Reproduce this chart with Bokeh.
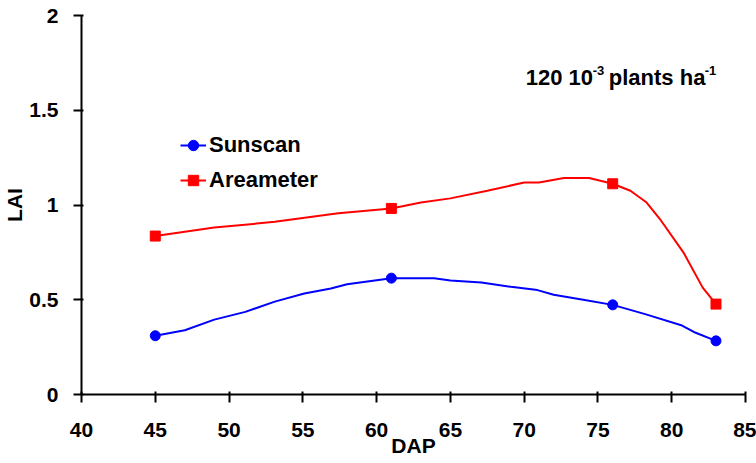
import math
from bokeh.plotting import figure
from bokeh.models import Range1d, FixedTicker, Label, Legend, LegendItem
from bokeh.embed import file_html
from bokeh.resources import INLINE

# measured days (markers)
days = [45, 61, 76, 83]
sunscan = [0.31, 0.614, 0.473, 0.283]
areameter = [0.836, 0.982, 1.112, 0.477]

# smoothed curves
sunscan_curve_days = [45, 47.0, 49.0, 51.1, 53.1, 55.1, 56.9, 58.0, 61, 63.9, 65.0, 67.1,
                      69.1, 70.9, 72.0, 74.0, 76, 78.2, 80.7, 81.5, 83]
sunscan_curve_lai = [0.31, 0.339, 0.395, 0.436, 0.49, 0.533, 0.559, 0.582, 0.614, 0.614, 0.602,
                     0.591, 0.568, 0.551, 0.526, 0.50, 0.473, 0.424, 0.364, 0.330, 0.283]
areameter_curve_days = [45, 49.0, 53.1, 57.4, 61, 63.0, 65.0, 67.5, 70.0, 71.0, 72.7, 74.4,
                        76, 77.2, 78.3, 79.2, 80.8, 82.1, 83]
areameter_curve_lai = [0.836, 0.881, 0.911, 0.957, 0.982, 1.013, 1.035, 1.075, 1.119, 1.119,
                       1.142, 1.142, 1.112, 1.075, 1.013, 0.926, 0.749, 0.564, 0.477]

x_ticks = [40, 45, 50, 55, 60, 65, 70, 75, 80, 85]
y_ticks = [0, 0.5, 1, 1.5, 2]
y_tick_labels = ["0", "0.5", "1", "1.5", "2"]

FONT = "Liberation Sans"
BLUE = "#0000FF"
RED = "#FF0000"

p = figure(width=756, height=463, x_range=Range1d(40, 85), y_range=Range1d(0, 2),
           output_backend="svg", toolbar_location=None,
           min_border_left=80, min_border_right=11, min_border_top=15, min_border_bottom=69)
p.outline_line_color = None
p.xgrid.visible = False
p.ygrid.visible = False
p.background_fill_color = "white"
p.border_fill_color = "white"

for ax, ticks in ((p.xaxis[0], x_ticks), (p.yaxis[0], y_ticks)):
    ax.ticker = FixedTicker(ticks=ticks)
    ax.minor_tick_line_color = None
    ax.axis_line_width = 2
    ax.axis_line_color = "black"
    ax.major_tick_line_width = 2
    ax.major_tick_line_color = "black"
    ax.major_tick_out = 8
    ax.major_label_text_font = FONT
    ax.major_label_text_font_style = "bold"
    ax.major_label_text_font_size = "21px"
    ax.major_label_text_color = "black"
    ax.axis_label_text_font = FONT
    ax.axis_label_text_font_style = "bold"
    ax.axis_label_text_font_size = "21px"
    ax.axis_label_text_color = "black"

p.xaxis[0].major_tick_in = 3
p.xaxis[0].major_label_standoff = 20
p.xaxis[0].axis_label = "DAP"
p.xaxis[0].axis_label_standoff = -6
p.yaxis[0].major_tick_in = 2
p.yaxis[0].major_label_standoff = 15
p.yaxis[0].major_label_text_baseline = "hanging"
p.yaxis[0].major_label_overrides = {t: s for t, s in zip(y_ticks, y_tick_labels)}
p.yaxis[0].axis_label = "LAI"
p.yaxis[0].axis_label_standoff = 0

l1 = p.line(sunscan_curve_days, sunscan_curve_lai, line_color=BLUE, line_width=2)
s1 = p.scatter(days, sunscan, marker="circle", size=10, fill_color=BLUE, line_color=BLUE)
l2 = p.line(areameter_curve_days, areameter_curve_lai, line_color=RED, line_width=2)
s2 = p.scatter(days, areameter, marker="square", size=10, fill_color=RED, line_color=RED)

legend = Legend(items=[LegendItem(label="Sunscan", renderers=[l1, s1]),
                       LegendItem(label="Areameter", renderers=[l2, s2])],
                location=(99, 201), padding=0, margin=0, spacing=9,
                glyph_width=26, glyph_height=26, label_height=26, label_standoff=3,
                border_line_alpha=0, background_fill_alpha=0,
                label_text_font=FONT, label_text_font_style="bold",
                label_text_font_size="22px", label_text_color="black")
p.add_layout(legend)

def add_text(x, y, txt, size, x_offset=0):
    p.add_layout(Label(x=x, y=y, text=txt, x_offset=x_offset,
                       text_font=FONT, text_font_style="bold", text_font_size=size,
                       text_color="black", text_align="left", text_baseline="alphabetic"))

# title "120 10^-3 plants ha^-1"
add_text(70.11, 1.673, "120 10", "22px")
add_text(70.11, 1.712, "-3", "13px", x_offset=67)
add_text(70.11, 1.673, "plants ha", "22px", x_offset=83)
add_text(70.11, 1.712, "-1", "13px", x_offset=179)

open("out.html", "w").write(file_html(p, INLINE))
